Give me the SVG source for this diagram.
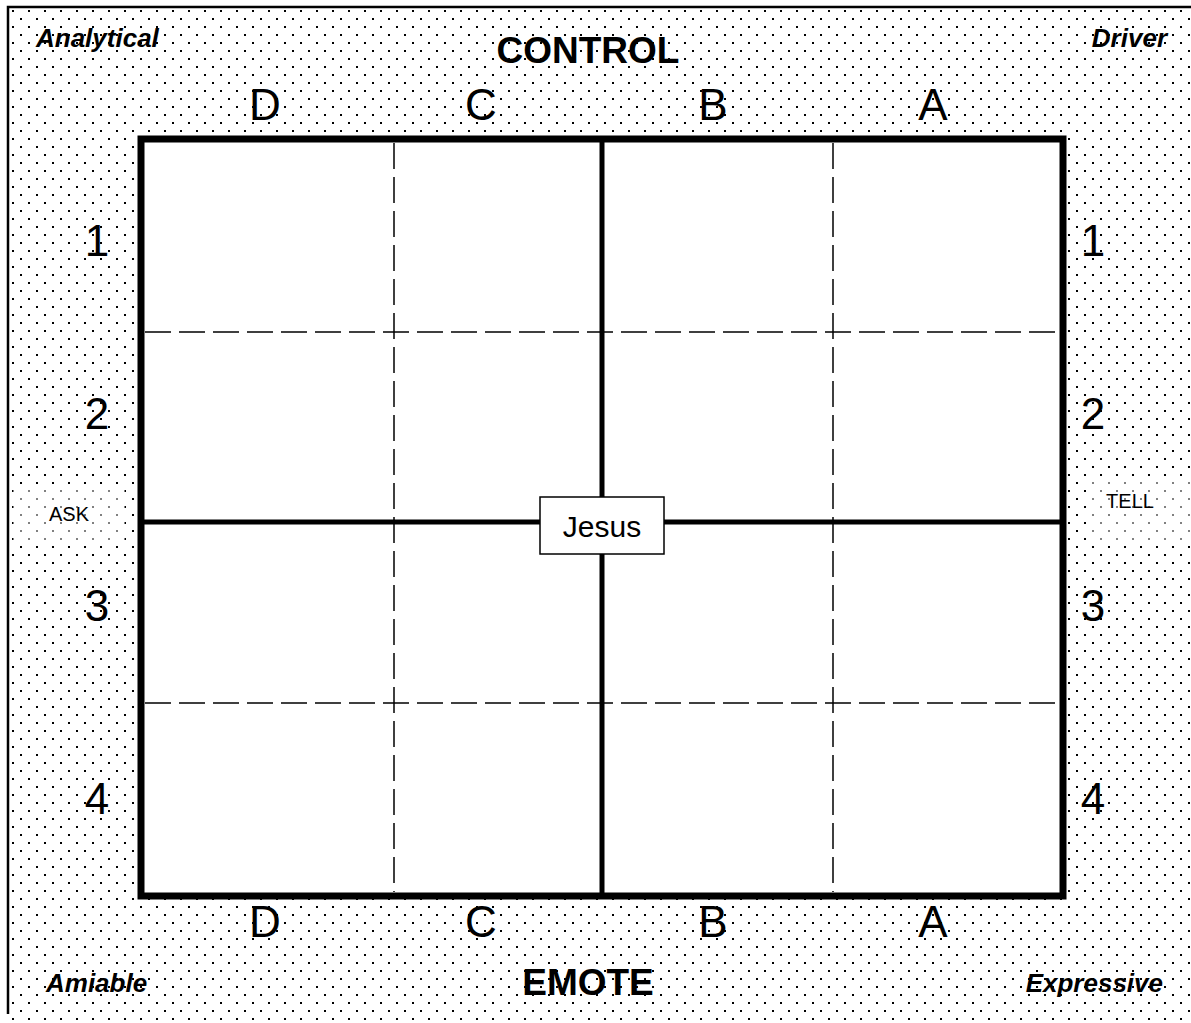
<svg xmlns="http://www.w3.org/2000/svg" width="1191" height="1023" viewBox="0 0 1191 1023">
<defs>
<pattern id="dots" patternUnits="userSpaceOnUse" width="16" height="16">
<rect x="4" y="2" width="2" height="2" fill="#000"/>
<rect x="12" y="10" width="2" height="2" fill="#000"/>
</pattern>
</defs>
<style>
.lbl{font-family:"Liberation Sans",Arial,sans-serif;font-size:44px;fill:#000;text-anchor:middle}
.corner{font-family:"Liberation Sans",Arial,sans-serif;font-size:26px;font-weight:bold;font-style:italic;fill:#000}
.title{font-family:"Liberation Sans",Arial,sans-serif;font-size:37px;font-weight:bold;fill:#000;text-anchor:middle}
.small{font-family:"Liberation Sans",Arial,sans-serif;font-size:20px;fill:#000;text-anchor:middle}
.thick{stroke:#000;stroke-width:7;fill:none}
.mid{stroke:#000;stroke-width:5;fill:none}
.dash{stroke:#000;stroke-width:1.5;stroke-dasharray:26 8;fill:none}
</style>
<rect width="1191" height="1023" fill="#fff"/>
<rect x="8" y="7" width="1183" height="1016" fill="url(#dots)"/>
<path d="M8,1014 V7 H1191" stroke="#000" stroke-width="2.5" fill="none"/>
<rect x="13" y="490" width="112" height="50" fill="#fff" fill-opacity="0.5"/>
<rect x="1092" y="482" width="99" height="58" fill="#fff" fill-opacity="0.5"/>
<g id="grid">
<rect x="141" y="139" width="922" height="757" fill="#fff"/>
<g id="connectors">
<line class="dash" x1="394" y1="143" x2="394" y2="892"/>
<line class="dash" x1="833" y1="143" x2="833" y2="892"/>
<line class="dash" x1="145" y1="332" x2="1059" y2="332"/>
<line class="dash" x1="145" y1="703" x2="1059" y2="703"/>
<line class="mid" x1="602" y1="139" x2="602" y2="896"/>
<line class="mid" x1="141" y1="522" x2="1063" y2="522"/>
</g>
<rect class="thick" x="141" y="139" width="922" height="757"/>
</g>
<g id="jesus">
<rect x="540" y="497" width="124" height="57" fill="#fff" stroke="#000" stroke-width="1.5"/>
<text x="602" y="537" font-family="Liberation Sans, Arial, sans-serif" font-size="30" text-anchor="middle">Jesus</text>
</g>
<g id="labels-top">
<text class="lbl" x="265" y="120">D</text>
<text class="lbl" x="481" y="120">C</text>
<text class="lbl" x="713" y="120">B</text>
<text class="lbl" x="933" y="120">A</text>
</g>
<g id="labels-bottom">
<text class="lbl" x="265" y="937">D</text>
<text class="lbl" x="481" y="937">C</text>
<text class="lbl" x="713" y="937">B</text>
<text class="lbl" x="933" y="937">A</text>
</g>
<g id="labels-left">
<text class="lbl" x="97" y="256">1</text>
<text class="lbl" x="97" y="429">2</text>
<text class="lbl" x="97" y="621">3</text>
<text class="lbl" x="97" y="814">4</text>
</g>
<g id="labels-right">
<text class="lbl" x="1093" y="256">1</text>
<text class="lbl" x="1093" y="429">2</text>
<text class="lbl" x="1093" y="621">3</text>
<text class="lbl" x="1093" y="814">4</text>
</g>
<g id="corners">
<text class="corner" x="36" y="47">Analytical</text>
<text class="corner" x="1167" y="47" text-anchor="end">Driver</text>
<text class="corner" x="46" y="992">Amiable</text>
<text class="corner" x="1163" y="992" text-anchor="end">Expressive</text>
</g>
<g id="titles">
<text class="title" x="588" y="63">CONTROL</text>
<text class="title" x="588" y="995">EMOTE</text>
</g>
<g id="ask"><text class="small" x="69" y="521">ASK</text></g>
<g id="tell"><text class="small" x="1130" y="508">TELL</text></g>
</svg>
